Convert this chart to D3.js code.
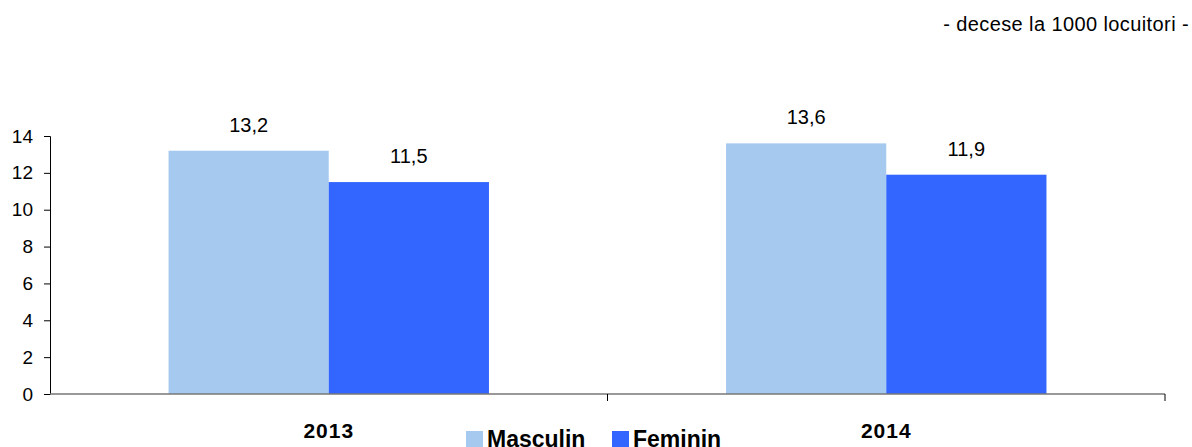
<!DOCTYPE html>
<html>
<head>
<meta charset="utf-8">
<script src="https://cdn.jsdelivr.net/npm/d3@7"></script>
<style>
  body { margin: 0; background: #fff; }
  svg { font-family: "Liberation Sans", Arial, sans-serif; }
</style>
</head>
<body>
<div id="chart"></div>
<script>
// data
var years = ["2013", "2014"];
var seriesNames = ["Masculin", "Feminin"];
var masculin = [13.2, 13.6];
var feminin = [11.5, 11.9];
var yTicks = [0, 2, 4, 6, 8, 10, 12, 14];

var colors = ["#a6c9ef", "#3366ff"];

var widthTotal = 1192, heightTotal = 447;
var plot = {left: 50, right: 1165, top: 136, bottom: 394};

var svg = d3.select("#chart").append("svg")
  .attr("width", widthTotal)
  .attr("height", heightTotal);

var x = d3.scaleBand().domain(years).range([plot.left, plot.right]).paddingInner(0).paddingOuter(0);
var inner = d3.scaleBand().domain(seriesNames).range([0, x.bandwidth()]).paddingInner(0).paddingOuter(0.74);
var y = d3.scaleLinear().domain([0, 14]).range([plot.bottom, plot.top]);

var rows = years.map(function(yr, i) {
  return {year: yr, values: [masculin[i], feminin[i]]};
});

// bars
var groups = svg.selectAll("g.year").data(rows).enter().append("g")
  .attr("class", "year")
  .attr("transform", function(d) { return "translate(" + x(d.year) + ",0)"; });

groups.selectAll("rect").data(function(d) { return d.values; }).enter().append("rect")
  .attr("x", function(d, i) { return inner(seriesNames[i]); })
  .attr("y", function(d) { return y(d); })
  .attr("width", inner.bandwidth())
  .attr("height", function(d) { return y(0) - y(d); })
  .attr("fill", function(d, i) { return colors[i]; });

groups.selectAll("text.val").data(function(d) { return d.values; }).enter().append("text")
  .attr("class", "val")
  .attr("x", function(d, i) { return inner(seriesNames[i]) + inner.bandwidth() / 2; })
  .attr("y", function(d) { return y(d) - 19; })
  .attr("text-anchor", "middle")
  .attr("font-size", "20px")
  .attr("fill", "#000")
  .text(function(d) { return String(d).replace(".", ","); });

// y axis
var yAxis = svg.append("g")
  .attr("transform", "translate(" + plot.left + ",0)")
  .call(d3.axisLeft(y).tickValues(yTicks).tickSize(6).tickPadding(11));
yAxis.select(".domain").attr("stroke", "#000");
yAxis.selectAll(".tick line").attr("stroke", "#000");
yAxis.selectAll("text").attr("font-size", "19px").attr("fill", "#000")
  .attr("font-family", "Liberation Sans, Arial, sans-serif");

// x axis line + ticks between categories
svg.append("line")
  .attr("x1", plot.left).attr("x2", plot.right)
  .attr("y1", y(0)).attr("y2", y(0))
  .attr("stroke", "#777").attr("stroke-width", 1.5);
svg.selectAll("line.xtick").data(years).enter().append("line")
  .attr("class", "xtick")
  .attr("x1", function(d) { return x(d) + x.bandwidth(); })
  .attr("x2", function(d) { return x(d) + x.bandwidth(); })
  .attr("y1", y(0)).attr("y2", y(0) + 7)
  .attr("stroke", "#000");

// category labels
svg.selectAll("text.year").data(years).enter().append("text")
  .attr("class", "year")
  .attr("x", function(d) { return x(d) + x.bandwidth() / 2; })
  .attr("y", 438)
  .attr("text-anchor", "middle")
  .attr("font-size", "21px")
  .attr("font-weight", "bold")
  .attr("letter-spacing", "1px")
  .text(function(d) { return d; });

// legend
var legendX = [466, 612];
var legend = svg.selectAll("g.legend").data(seriesNames).enter().append("g")
  .attr("class", "legend")
  .attr("transform", function(d, i) { return "translate(" + legendX[i] + ",431)"; });
legend.append("rect")
  .attr("width", 17).attr("height", 17)
  .attr("fill", function(d, i) { return colors[i]; });
legend.append("text")
  .attr("x", 21).attr("y", 16)
  .attr("font-size", "23px")
  .attr("font-weight", "bold")
  .text(function(d) { return d; });

// unit note
svg.append("text")
  .attr("x", 1189).attr("y", 31)
  .attr("text-anchor", "end")
  .attr("font-size", "20px")
  .attr("letter-spacing", "0.4px")
  .text("- decese la 1000 locuitori -");
</script>
</body>
</html>
